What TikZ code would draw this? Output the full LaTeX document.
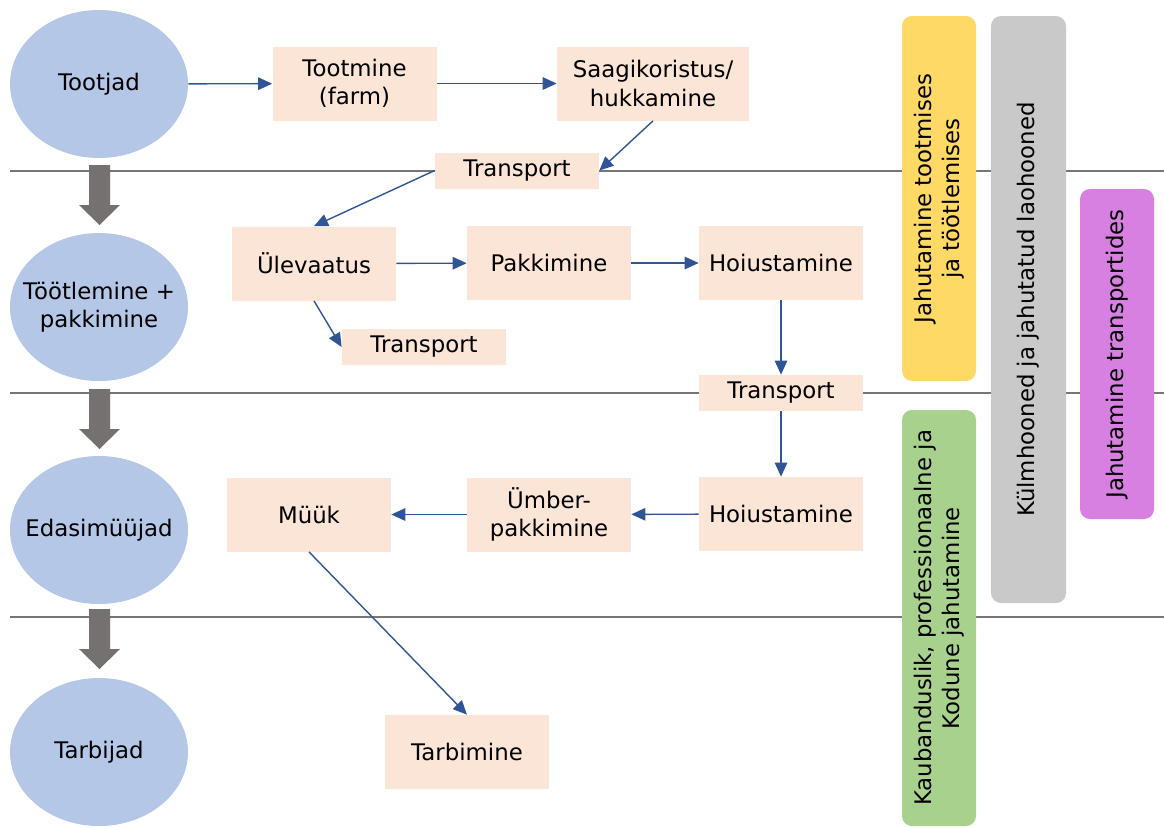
\documentclass[tikz,border=0pt]{standalone}
\usepackage{fontspec}
\setmainfont{DejaVu Sans}
\usetikzlibrary{arrows.meta,shapes.geometric,calc}
\definecolor{colorActor}{HTML}{B4C7E7}
\definecolor{colorStep}{HTML}{FBE5D6}
\definecolor{colorFlow}{HTML}{2F5597}
\definecolor{colorSep}{HTML}{767676}
\definecolor{colorDown}{HTML}{767171}
\definecolor{colorProd}{HTML}{FFD966}
\definecolor{colorStore}{HTML}{C9C9C9}
\definecolor{colorTrans}{HTML}{D880E2}
\definecolor{colorHome}{HTML}{A9D18E}
\newcommand{\txt}{\fontsize{13}{16}\selectfont}
\tikzset{
   every path/.style={>={Triangle[length=2.8mm,width=2.5mm]}},
   actor/.style={ellipse,fill=colorActor,minimum width=35.6mm,minimum height=29.6mm,inner sep=0pt,inner xsep=-3mm,align=center,font=\txt},
   stepbox/.style={rectangle,fill=colorStep,minimum width=32.8mm,minimum height=14.8mm,inner sep=0pt,align=center,font=\txt},
   trbox/.style={stepbox,minimum height=7.2mm},
   flow/.style={->,color=colorFlow,line width=0.8pt},
   sep/.style={color=colorSep,line width=1.6pt},
   band/.style={rectangle,rounded corners=2mm,rotate=90,inner sep=0pt,minimum height=14.8mm,align=center,font=\txt},
}

\begin{document}
\begin{tikzpicture}[x=0.2mm, y=-0.2mm]
    \useasboundingbox (0,0) rectangle (1164,826);

    \foreach \y in {171,393,617}
        \draw[sep] (10,\y) -- (1164,\y);

    \foreach \y in {165,389,609}
        \fill[colorDown] (89,\y) -- (110,\y) -- (110,\y+40) -- (120,\y+40)
            -- (99.5,\y+60) -- (79,\y+40) -- (89,\y+40) -- cycle;

    \node[actor] (tootjad)    at (99,84)  {Tootjad};
    \node[actor] (tootlemine) at (99,307) {Töötlemine +\\pakkimine};
    \node[actor] (edasi)      at (99,530) {Edasimüüjad};
    \node[actor] (tarbijad)   at (99,752) {Tarbijad};

    \node[stepbox] (tootmine) at (354.5,83.5) {Tootmine\\(farm)};
    \node[stepbox,minimum width=38.4mm] (saak) at (653,83.5) {Saagikoristus/\\hukkamine};
    \node[trbox] (trA) at (517,170.5) {Transport};

    \node[stepbox] (ulev) at (314,263.5) {Ülevaatus};
    \node[stepbox] (pakk) at (549,263)   {Pakkimine};
    \node[stepbox] (hoiA) at (781,263)   {Hoiustamine};
    \node[trbox]   (trB)  at (424,347)   {Transport};
    \node[trbox]   (trC)  at (781,393)   {Transport};

    \node[stepbox] (muuk)  at (309,514.5) {Müük};
    \node[stepbox] (umber) at (549,514.5) {Ümber-\\pakkimine};
    \node[stepbox] (hoiB)  at (781,514)   {Hoiustamine};
    \node[stepbox] (tarb)  at (467,752)   {Tarbimine};

    \draw[flow] (tootjad) -- (tootmine);
    \draw[flow] (tootmine) -- (saak);
    \draw[flow] (saak.south) -- (trA.east);
    \draw[flow] (trA.west) -- (ulev.north);
    \draw[flow] (ulev) -- (pakk);
    \draw[flow] (pakk) -- (hoiA);
    \draw[flow] (ulev.south) -- (trB.west);
    \draw[flow] (hoiA) -- (trC);
    \draw[flow] (trC) -- (hoiB);
    \draw[flow] (hoiB) -- (umber);
    \draw[flow] (umber) -- (muuk);
    \draw[flow] (muuk.south) -- (tarb.north);

    % cooling bands
    \node[band,fill=colorProd,minimum width=73mm]    (bProd)  at (939,198.5)  {Jahutamine tootmises\\ja töötlemises};
    \node[band,fill=colorStore,minimum width=117.4mm,minimum height=15mm] (bStore) at (1028.5,309.5) {Külmhooned ja jahutatud laohooned};
    \node[band,fill=colorTrans,minimum width=66mm]   (bTrans) at (1117,354)    {Jahutamine transportides};
    \node[band,fill=colorHome,minimum width=83.2mm]  (bHome)  at (939,618)     {Kaubanduslik, professionaalne ja\\Kodune jahutamine};

\end{tikzpicture}
\end{document}
